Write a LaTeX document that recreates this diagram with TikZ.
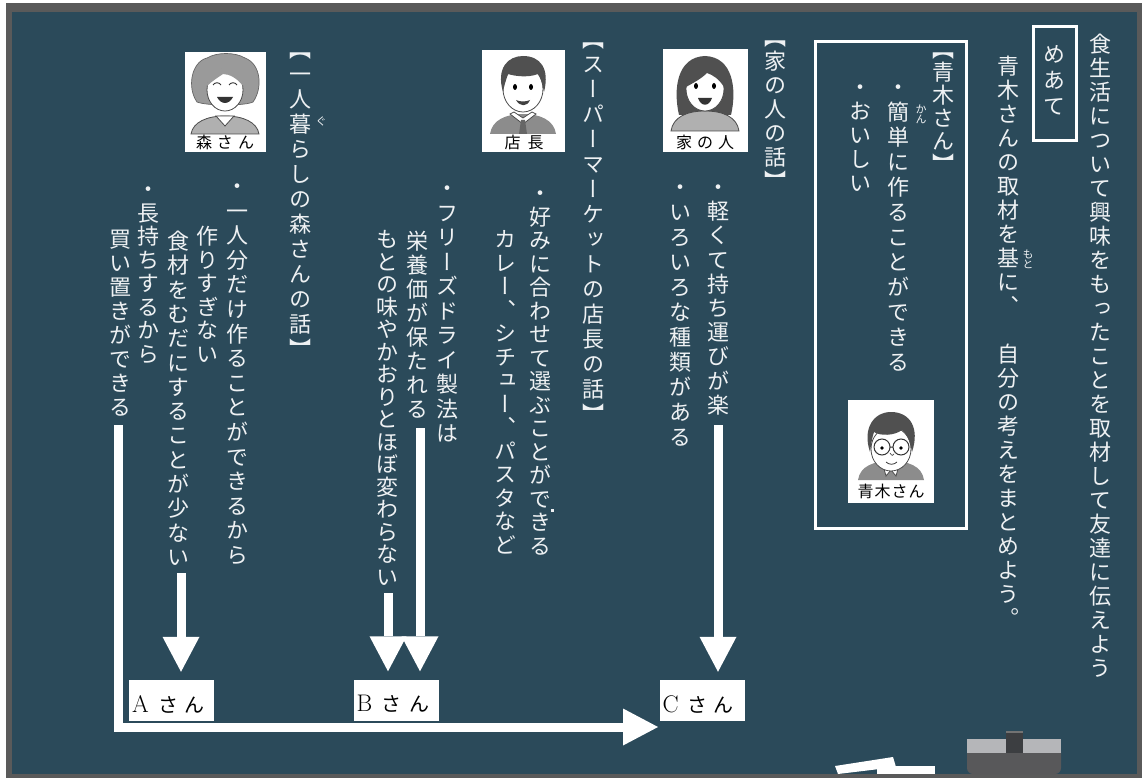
\documentclass[tikz,border=0pt]{standalone}
\usepackage{fontspec}
\usepackage{graphicx}
\usetikzlibrary{arrows.meta}
\newfontfamily\jpv[RawFeature={+vert}]{Noto Sans CJK JP}
\newfontfamily\jph{Noto Sans CJK JP}
\definecolor{board}{HTML}{2B4A5A}
\definecolor{boardframe}{HTML}{5A5A5A}
\definecolor{chalk}{HTML}{EEF1F3}
\definecolor{hairdark}{HTML}{505050}
\definecolor{hairgray}{HTML}{9A9A9A}
\definecolor{cloth}{HTML}{8C8C8C}
\definecolor{clothlight}{HTML}{B0B0B0}
\definecolor{erasertop}{HTML}{B5B6B9}
\definecolor{eraserbody}{HTML}{58585A}
\definecolor{eraserhandle}{HTML}{3C3E41}
% one character per cell, stacked top to bottom
\makeatletter
\def\vt@stopmark{\vt@stop}
\def\vt@go#1{\def\vt@tmp{#1}\ifx\vt@tmp\vt@stopmark\else\vt@cell{#1}\expandafter\vt@go\fi}
\def\vt@cell#1{\hbox to 1em{\vrule height .88em depth .12em width 0pt\hss#1\hss}}
\newcommand\vcol[2]{\vbox{\baselineskip=#1\lineskiplimit=-100pt\lineskip=0pt\vt@go#2\vt@stop}}
\makeatother
\begin{document}
\begin{tikzpicture}[x=1pt,y=-1pt,
  vtxt/.style={text=chalk,inner sep=0pt,anchor=north,font=\fontsize{22}{24}\selectfont\jpv},
  ruby/.style={text=chalk,inner sep=0pt,anchor=north,font=\fontsize{11}{11}\selectfont\jpv},
  plabel/.style={text=black,inner sep=0pt,font=\fontsize{16}{16}\selectfont\jph},
  namebox/.style={fill=white,text=black,inner xsep=3pt,inner ysep=0pt,text width=79pt,
    text height=32pt,text depth=9pt,align=left},
  flow/.style={white,line width=9pt,-{Triangle[length=35pt,width=37pt,line width=0pt]}},
  faceline/.style={draw=black!70,line width=0.8pt},
]
% board
\useasboundingbox (0,0) rectangle (1142,778);
\fill[white] (0,0) rectangle (1142,778);
\fill[boardframe] (6,3) rectangle (1142,778);
\fill[board] (12,12) rectangle (1137,774);

% title and aim
\node[vtxt] (title) at (1100,33) {\vcol{24pt}{食生活について興味をもったことを取材して友達に伝えよう}};
\draw[white,line width=3pt] (1033,27) rectangle (1076,141);
\node[vtxt] (aim) at (1054,43) {\vcol{26pt}{めあて}};
\node[vtxt] (aimtext) at (1008,55) {\vcol{24pt}{青木さんの取材を基に、　自分の考えをまとめよう。}};
\node[ruby] (rmoto) at (1028,249) {\vcol{10pt}{もと}};

% Aoki-san
\draw[white,line width=3pt] (815,42) rectangle (966,528);
\node[vtxt] (aokih) at (943,38) {\vcol{23pt}{【青木さん】}};
\node[vtxt] (aoki1) at (898,76) {\vcol{25pt}{・簡単に作ることができる}};
\node[vtxt] (aoki2) at (860,76) {\vcol{24pt}{・おいしい}};
\node[ruby] (rkan) at (921,104) {\vcol{10pt}{かん}};
\begin{scope}[shift={(848,400)}]
  \fill[white] (0,0) rectangle (86,103);
  \fill[cloth] (10,80) .. controls (12,66) and (26,61) .. (43,61) .. controls (60,61) and (74,66) .. (76,80) -- cycle;
  \fill[white,faceline] (34,62) -- (43,70) -- (38,76) -- cycle;
  \fill[white,faceline] (52,62) -- (43,70) -- (48,76) -- cycle;
  \fill[white,faceline] (43,49) ellipse (20pt and 22pt);
  \fill[hairdark] (22,52) .. controls (14,28) and (26,12) .. (43,12) .. controls (62,12) and (72,28) .. (64,52)
     .. controls (62,40) and (58,33) .. (54,30) .. controls (46,36) and (32,36) .. (26,32) .. controls (24,38) and (23,45) .. (22,52) -- cycle;
  \draw[black!80,line width=1pt] (34,47) circle (8pt) (53,47) circle (8pt) (42,47) -- (45,47);
  \fill (34,48) circle (1.8pt) (53,48) circle (1.8pt);
  \draw[black!70,line width=0.7pt] (42,53) .. controls (44,56) and (45,56) .. (46,54);
  \draw[black!80,line width=0.8pt] (38,62) .. controls (41,65) and (46,65) .. (49,62);
  \node[plabel] (aokilabel) at (43,91) {青\hspace{1pt}木\hspace{1pt}さ\hspace{1pt}ん};
\end{scope}

% family member
\node[vtxt] (ieh) at (775,26) {\vcol{24pt}{【家の人の話】}};
\node[vtxt] (ie1) at (718,176) {\vcol{24.2pt}{・軽くて持ち運びが楽}};
\node[vtxt] (ie2) at (680,176) {\vcol{25pt}{・いろいろな種類がある}};
\begin{scope}[shift={(663,49)}]
  \fill[white] (0,0) rectangle (85,103);
  \fill[hairdark] (16,66) .. controls (10,40) and (14,8) .. (42,7) .. controls (70,8) and (74,40) .. (68,66) -- cycle;
  \fill[clothlight,faceline] (8,82) .. controls (10,68) and (24,62) .. (42,62) .. controls (60,62) and (74,68) .. (76,82) -- cycle;
  \fill[white,faceline] (42,40) ellipse (19pt and 22pt);
  \fill[hairdark] (23,38) .. controls (22,22) and (30,16) .. (42,16) .. controls (54,16) and (62,22) .. (61,38)
     .. controls (56,30) and (50,26) .. (44,24) .. controls (38,30) and (30,34) .. (23,38) -- cycle;
  \fill (33,37) ellipse (2pt and 3pt) (51,37) ellipse (2pt and 3pt);
  \fill[black!80] (35,49) .. controls (38,58) and (46,58) .. (49,49) -- cycle;
  \node[plabel] (ielabel) at (42,93) {家\hspace{5pt}の\hspace{5pt}人};
\end{scope}

% store manager
\node[vtxt] (suh) at (593,28) {\vcol{25pt}{【スーパーマーケットの店長の話】}};
\node[vtxt] (su1) at (540,182) {\vcol{23.5pt}{・好みに合わせて選ぶことができる}};
\node[vtxt] (su2) at (505,228) {\vcol{23.5pt}{カレー、シチュー、パスタなど}};
\fill[chalk] (550.5,508.5) rectangle (553.5,511.5);
\begin{scope}[shift={(482,50)}]
  \fill[white] (0,0) rectangle (83,102);
  \fill[cloth] (8,84) .. controls (10,70) and (24,64) .. (41,64) .. controls (58,64) and (72,70) .. (74,84) -- cycle;
  \fill[white,faceline] (28,64) -- (41,74) -- (54,64) -- (50,62) -- (41,68) -- (32,62) -- cycle;
  \fill[black!60] (39,70) -- (43,70) -- (45,84) -- (37,84) -- cycle;
  \fill[white,faceline] (41,39) ellipse (20pt and 23pt);
  \fill[hairdark] (21,42) .. controls (14,18) and (26,6) .. (41,6) .. controls (58,6) and (68,18) .. (62,42)
     .. controls (60,32) and (58,26) .. (56,24) .. controls (46,28) and (32,26) .. (26,24) .. controls (24,30) and (22,36) .. (21,42) -- cycle;
  \fill (33,37) ellipse (2pt and 3pt) (49,37) ellipse (2pt and 3pt);
  \fill[black!75] (34,50) .. controls (38,57) and (45,57) .. (48,50) .. controls (44,52) and (38,52) .. (34,50) -- cycle;
  \node[plabel] (sulabel) at (42,92) {店\hspace{7pt}長};
\end{scope}

% freeze-dried food
\node[vtxt] (fd1) at (447,177) {\vcol{24.5pt}{・フリーズドライ製法は}};
\node[vtxt] (fd2) at (417,230) {\vcol{24pt}{栄養価が保たれる}};
\node[vtxt] (fd3) at (387,228) {\vcol{22.5pt}{もとの味やかおりとほぼ変わらない}};

% Mori-san
\node[vtxt] (moh) at (300,38) {\vcol{25pt}{【一人暮らしの森さんの話】}};
\node[ruby] (rgu) at (321,116) {\vcol{10pt}{ぐ}};
\node[vtxt] (mo1) at (237,175) {\vcol{24.6pt}{・一人分だけ作ることができるから}};
\node[vtxt] (mo2) at (207,225) {\vcol{23.5pt}{作りすぎない}};
\node[vtxt] (mo3) at (178,230) {\vcol{24.3pt}{食材をむだにすることが少ない}};
\node[vtxt] (mo4) at (148,178) {\vcol{23.5pt}{・長持ちするから}};
\node[vtxt] (mo5) at (120,228) {\vcol{24pt}{買い置きができる}};
\begin{scope}[shift={(185,52)}]
  \fill[white] (0,0) rectangle (81,100);
  \fill[clothlight,faceline] (6,82) .. controls (8,70) and (22,64) .. (40,64) .. controls (58,64) and (72,70) .. (74,82) -- cycle;
  \fill[white,faceline] (31,64) -- (40,74) -- (49,64) -- cycle;
  \fill[hairgray,draw=black!60,line width=0.7pt] (12,50) .. controls (2,36) and (6,10) .. (22,6) .. controls (32,0) and (50,0) .. (60,6)
     .. controls (76,12) and (78,36) .. (68,50) .. controls (60,54) and (22,54) .. (12,50) -- cycle;
  \fill[white,faceline] (40,38) ellipse (18pt and 21pt);
  \fill[hairgray] (22,34) .. controls (22,22) and (30,16) .. (40,16) .. controls (52,16) and (58,22) .. (58,34)
     .. controls (52,26) and (44,22) .. (38,22) .. controls (32,26) and (26,30) .. (22,34) -- cycle;
  \draw[black!80,line width=0.9pt] (28,33) .. controls (30,30) and (34,30) .. (36,33);
  \draw[black!80,line width=0.9pt] (44,33) .. controls (46,30) and (50,30) .. (52,33);
  \fill[black!80] (32,45) .. controls (36,53) and (44,53) .. (48,45) -- cycle;
  \node[plabel] (molabel) at (40,90) {森\hspace{5pt}さ\hspace{5pt}ん};
\end{scope}

% name cards
\node[namebox] (la) at (171.5,700.5) {{\rmfamily\fontsize{24}{24}\selectfont A}\hspace{10pt}{\jph\fontsize{20}{20}\selectfont さ\hspace{6pt}ん}};
\node[namebox] (lb) at (396,700) {{\rmfamily\fontsize{24}{24}\selectfont B}\hspace{9pt}{\jph\fontsize{20}{20}\selectfont さ\hspace{8pt}ん}};
\node[namebox] (lc) at (702,700.5) {{\rmfamily\fontsize{24}{24}\selectfont C}\hspace{9pt}{\jph\fontsize{20}{20}\selectfont さ\hspace{6pt}ん}};

% arrows
\coordinate (aS) at (181,573);
\coordinate (bS1) at (388,593);
\coordinate (bS2) at (420,428);
\coordinate (cS) at (718,425);
\coordinate (dS) at (118,425);
\coordinate (cin) at (658,727);
\draw[flow,shorten >=8pt] (aS) -- (aS |- la.north);
\draw[flow,shorten >=8pt] (bS1) -- (bS1 |- lb.north);
\draw[flow,shorten >=8pt] (bS2) -- (bS2 |- lb.north);
\draw[flow,shorten >=8pt] (cS) -- (cS |- lc.north);
\draw[flow] (dS) |- (cin);

% chalk pieces
\fill[white] (835,766) -- (893,757) -- (896,767) -- (838,774) -- cycle;
\fill[white] (877,766) rectangle (935,774);
% eraser
\fill[eraserbody,rounded corners=6pt] (967,745) -- (967,774) -- (1061,774) -- (1061,745) -- cycle;
\fill[erasertop] (967,739) rectangle (1061,753);
\fill[eraserhandle] (1006,731) rectangle (1023,753);
\fill[black!55] (1006,731) rectangle (1023,733);
\end{tikzpicture}
\end{document}
